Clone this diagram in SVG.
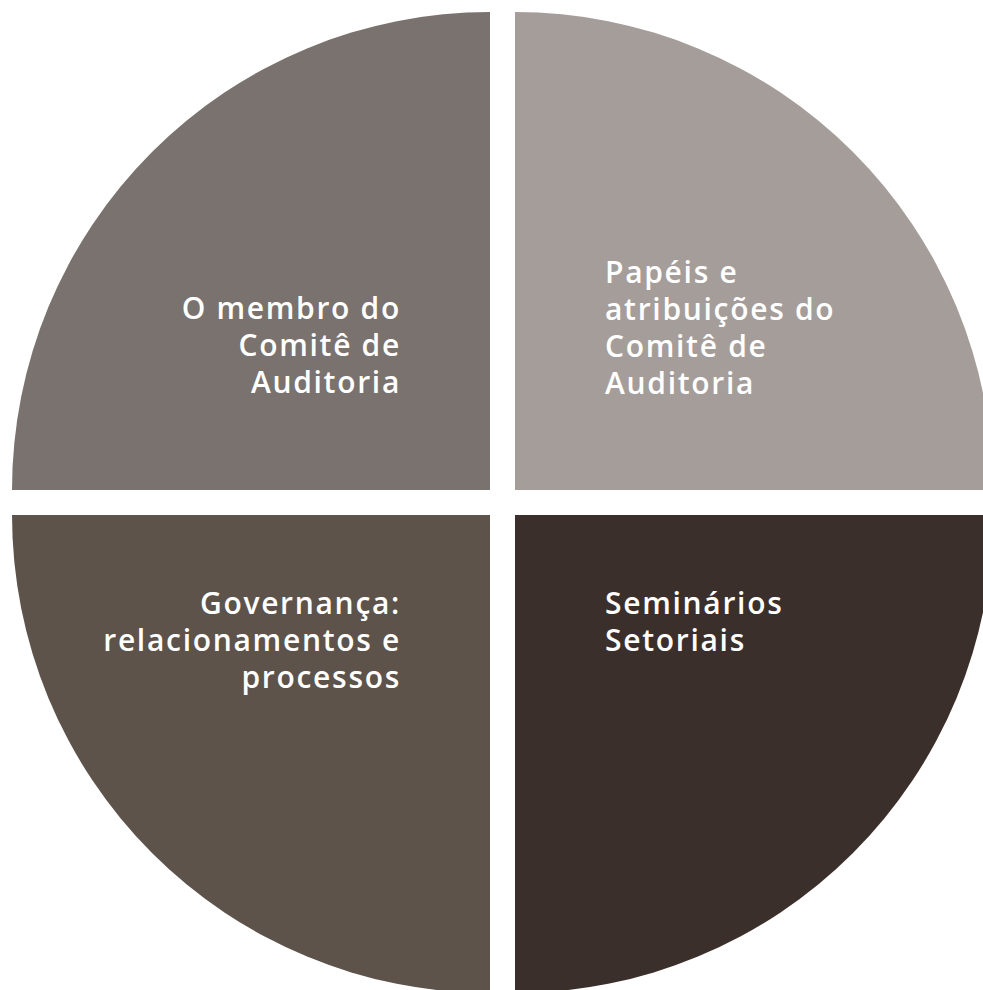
<svg xmlns="http://www.w3.org/2000/svg" width="983" height="990" viewBox="0 0 983 990">
<style>
.lbl{font-family:"Open Sans","Liberation Sans",sans-serif;font-weight:600;font-size:30px;letter-spacing:1.7px;fill:#ffffff}
.r{text-anchor:end}
</style>
<rect width="983" height="990" fill="#ffffff"/>
<g id="q1">
<path d="M490,490 L490,12 A478,478 0 0 0 12,490 Z" fill="#7a726e"/>
<text class="lbl r" x="401"><tspan x="401" y="319">O membro do</tspan><tspan x="401" y="356">Comitê de</tspan><tspan x="401" y="393">Auditoria</tspan></text>
</g>
<g id="q2">
<path d="M515,490 L515,12 A478,478 0 0 1 993,490 Z" fill="#a59d9a"/>
<text class="lbl" x="605"><tspan x="605" y="283">Papéis e</tspan><tspan x="605" y="320">atribuições do</tspan><tspan x="605" y="357">Comitê de</tspan><tspan x="605" y="394">Auditoria</tspan></text>
</g>
<g id="q3">
<path d="M490,515 L12,515 A478,478 0 0 0 490,993 Z" fill="#5d534b"/>
<text class="lbl r" x="401"><tspan x="401" y="614">Governança:</tspan><tspan x="401" y="651">relacionamentos e</tspan><tspan x="401" y="688">processos</tspan></text>
</g>
<g id="q4">
<path d="M515,515 L993,515 A478,478 0 0 1 515,993 Z" fill="#3b2f2b"/>
<text class="lbl" x="605"><tspan x="605" y="614">Seminários</tspan><tspan x="605" y="651">Setoriais</tspan></text>
</g>
<g id="connectors"/>
</svg>
